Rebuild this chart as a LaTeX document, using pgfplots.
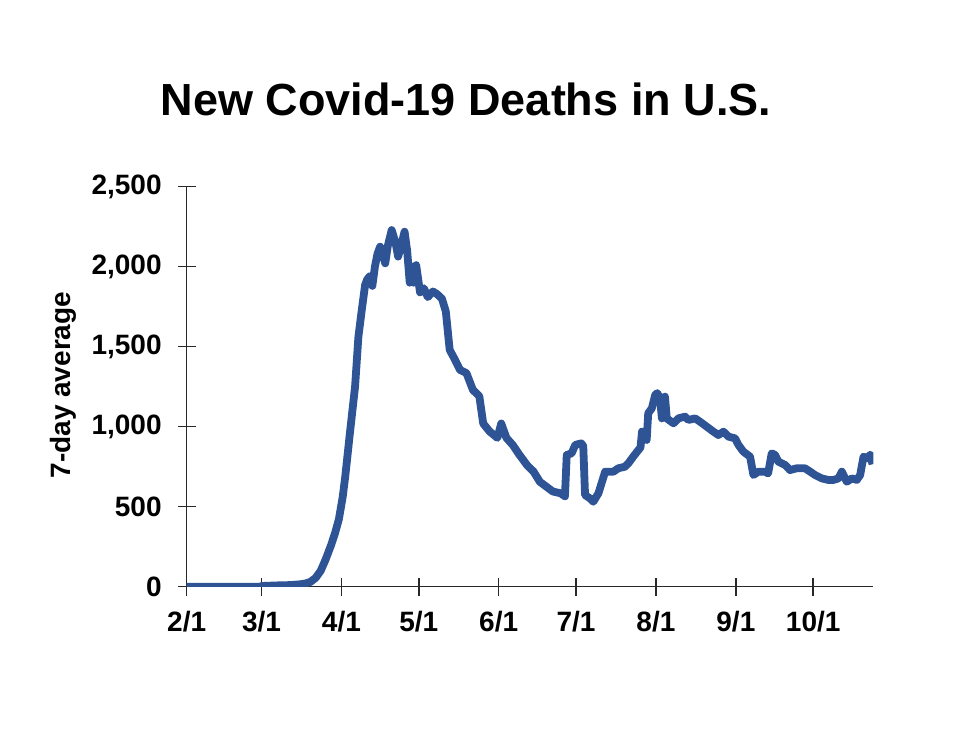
\documentclass[border=0pt]{standalone}
\usepackage{pgfplots}
\pgfplotsset{compat=1.18}
\usepackage{fontspec}
\setmainfont{Liberation Sans}
\definecolor{lineblue}{RGB}{46,84,150}
\definecolor{axgray}{RGB}{40,40,40}
\begin{document}
\begin{tikzpicture}[x=0.5pt,y=0.5pt]
\path (0,0) rectangle (959,733);
\begin{axis}[
  at={(93.35pt,73.15pt)}, anchor=south west,
  scale only axis, width=343.3pt, height=200pt,
  xmin=0, xmax=266.3, ymin=0, ymax=2500,
  axis x line=bottom, axis y line=left,
  axis line style={-, axgray, line width=0.75pt},
  every tick/.style={axgray, line width=0.75pt},
  tick align=center, major tick length=9pt,
  xtick={0,29,60,90,121,151,182,213,243},
  xticklabels={2/1,3/1,4/1,5/1,6/1,7/1,8/1,9/1,10/1},
  ytick={0,500,1000,1500,2000,2500},
  /pgf/number format/assume math mode=true,
  /pgf/number format/1000 sep={,},
  scaled y ticks=false,
  tick label style={font=\bfseries\fontsize{14}{16}\selectfont},
  yticklabel style={xshift=-4.5pt},
  xticklabel style={yshift=-4pt},
  title={New Covid-19 Deaths in U.S.},
  title style={font=\bfseries\fontsize{22.5}{25}\selectfont, at={(axis description cs:0.4068,1.148)}, anchor=base},
  ylabel={7-day average},
  every axis y label/.style={at={(axis description cs:-0.180,0.504)}, rotate=90, anchor=center, font=\bfseries\fontsize{14}{16}\selectfont},
]
\addplot[lineblue, line width=3.9pt, line join=round] coordinates {
(0,0) (10,0) (20,0) (28,0) (30,5) (35,8) (40,10) (44,15) (46,20) (48,30) (50,55) (52,100) (54,175) (56,260) (57.5,333) (59,420) (60.5,560) (61.5,690) (63.3,960) (65.3,1250) (66.6,1563) (67.9,1729) (69.2,1886) (70,1920) (71,1940) (72,1880) (73,2000) (74,2080) (75,2125) (76,2080) (77,2021) (78,2130) (79.5,2229) (81,2150) (82,2063) (83,2120) (84.5,2219) (85.5,2100) (86.5,1900) (87.5,2000) (88,1900) (89,2010) (90.5,1840) (92,1865) (93.5,1810) (95.5,1845) (97,1830) (99,1800) (100.5,1720) (102,1480) (104,1420) (106,1355) (108.5,1335) (111,1230) (113.5,1190) (115,1020) (117.5,970) (120.5,930) (122,1020) (124,930) (126.5,885) (129,825) (132,760) (134.5,720) (137,655) (139.5,625) (142,595) (145,584) (146.7,565) (147.4,823) (149.3,834) (150.7,886) (153,896) (153.8,880) (154.5,573) (156.4,552) (157.7,531) (159.7,584) (162.3,719) (165.5,719) (167.4,740) (170,750) (171.3,771) (173.2,813) (175,850) (176,870) (176.6,970) (177.6,950) (178.4,917) (179,1084) (180.4,1115) (181.7,1198) (182.5,1210) (183.6,1177) (184.3,1052) (185.5,1188) (186.2,1052) (188.8,1021) (190.7,1052) (193.3,1063) (194.6,1042) (197.2,1052) (199.1,1031) (201.7,1000) (204.3,969) (206.2,948) (208.2,969) (210.1,938) (212.7,927) (214,886) (215.9,844) (218.5,813) (219.8,698) (221.7,719) (224.3,719) (225.5,708) (226.9,834) (228.2,823) (229.5,781) (232.1,761) (234,729) (236.6,740) (239.8,740) (241.8,719) (243.7,698) (246.3,677) (248.9,667) (250.8,667) (252.8,677) (254.1,719) (256,656) (258,677) (259.9,667) (261.2,698) (262.5,813) (263.8,802) (265.1,823) (266,765)
};
\end{axis}
\end{tikzpicture}
\end{document}
